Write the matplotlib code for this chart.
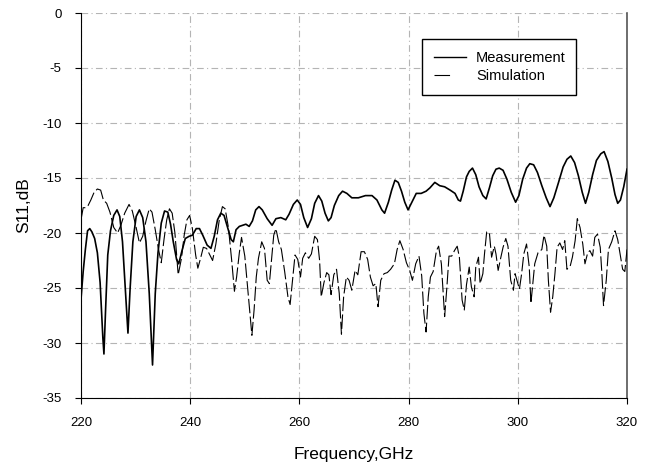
import matplotlib

matplotlib.use("Agg")
import matplotlib.pyplot as plt
from matplotlib.lines import Line2D

plt.rcParams["font.family"] = ["Liberation Sans", "DejaVu Sans"]
plt.rcParams["axes.unicode_minus"] = False

meas_freq = [
    220.0, 220.4, 220.8, 221.2, 221.6, 222.0, 222.5, 223.0, 223.5, 224.0, 224.2, 224.5,
    224.9, 225.4, 226.0, 226.6, 227.1, 227.6, 228.1, 228.6, 229.0, 229.5, 230.1, 230.7,
    231.3, 231.9, 232.5, 233.1, 233.6, 234.1, 234.7, 235.3, 235.9, 236.4, 236.9, 237.5,
    237.9, 238.5, 239.1, 239.8, 240.4, 241.1, 241.7, 242.3, 243.1, 243.8, 244.4, 245.0,
    245.6, 246.2, 246.9, 247.5, 247.9, 248.4, 249.0, 249.6, 250.2, 250.8, 251.4, 252.0,
    252.6, 253.2, 254.1, 255.0, 255.7, 256.6, 257.5, 258.1, 258.9, 259.6, 260.2, 260.8,
    261.5, 262.2, 262.8, 263.5, 264.1, 264.7, 265.3, 265.8, 266.4, 267.2, 267.9, 268.7,
    269.6, 270.8, 272.1, 273.3, 274.2, 275.1, 275.6, 276.3, 276.9, 277.5, 278.1, 278.7,
    279.3, 279.9, 280.5, 281.4, 282.3, 283.2, 283.9, 284.8, 285.7, 286.6, 287.6, 288.5,
    289.1, 289.5, 290.0, 290.6, 291.1, 291.7, 292.3, 292.9, 293.6, 294.2, 294.8, 295.4,
    296.0, 296.6, 297.3, 298.0, 298.8, 299.6, 300.2, 300.9, 301.6, 302.2, 302.9, 303.6,
    304.4, 305.2, 305.9, 306.6, 307.4, 308.3, 309.0, 309.7, 310.4, 311.1, 311.8, 312.4,
    313.0, 313.7, 314.4, 315.2, 315.8, 316.5, 317.2, 317.8, 318.3, 318.8, 319.4, 320.0,
]
meas_db = [
    -26.0, -23.5, -21.5, -19.8, -19.6, -19.9, -20.5, -21.8, -24.5, -29.5, -31.0, -27.0,
    -22.0, -19.8, -18.4, -17.9, -18.5, -20.8, -25.0, -29.1, -25.0, -20.8, -18.5, -17.9,
    -18.6, -20.8, -25.5, -32.0, -25.5, -21.8, -19.1, -18.0, -18.1, -19.2, -20.8, -22.4,
    -22.8, -21.6, -20.5, -20.3, -20.2, -19.6, -19.6, -20.2, -21.1, -21.4, -20.3, -18.8,
    -18.2, -18.4, -19.6, -20.6, -20.8, -19.7, -19.4, -19.3, -19.2, -19.4, -18.9, -17.9,
    -17.6, -17.9, -18.7, -19.3, -18.7, -18.6, -18.8, -18.3, -17.4, -17.0, -17.4, -18.6,
    -19.5, -18.7, -17.3, -16.6, -17.1, -18.2, -18.9, -18.6, -17.5, -16.6, -16.2, -16.4,
    -16.8, -16.8, -16.6, -16.6, -17.0, -17.9, -18.2, -17.2, -16.1, -15.2, -15.4, -16.2,
    -17.2, -17.9, -17.3, -16.4, -16.4, -16.2, -15.9, -15.4, -15.7, -15.8, -16.1, -16.4,
    -17.0, -17.1, -16.2, -14.9, -14.4, -14.1, -14.7, -15.8, -16.6, -16.9, -15.9, -14.8,
    -14.2, -14.1, -14.3, -15.1, -16.3, -17.2, -16.6, -15.1, -14.1, -13.7, -13.8, -14.5,
    -15.7, -16.8, -17.6, -16.8, -15.5, -14.0, -13.3, -13.0, -13.6, -14.8, -16.3, -17.3,
    -16.3, -14.7, -13.4, -12.8, -12.6, -13.5, -15.0, -16.5, -17.3, -17.0, -15.8, -14.2,
]

# simulated S11
sim_freq = [
    220.0, 220.4, 220.9, 221.3, 221.8, 222.4, 223.0, 223.6, 224.1, 224.7, 225.3, 226.0,
    226.7, 227.3, 228.0, 228.8, 229.4, 230.1, 230.7, 231.3, 231.9, 232.5, 233.0, 233.6,
    234.2, 234.7, 235.2, 235.7, 236.2, 236.7, 237.2, 237.8, 238.4, 238.9, 239.4, 239.9,
    240.4, 241.0, 241.4, 241.9, 242.4, 243.0, 243.6, 244.1, 244.7, 245.3, 245.9, 246.4,
    247.0, 247.6, 248.1, 248.5, 249.0, 249.4, 250.0, 250.6, 251.3, 251.7, 252.1, 252.5,
    253.1, 253.6, 254.1, 254.5, 254.9, 255.3, 255.7, 256.2, 256.7, 257.3, 257.9, 258.3,
    258.8, 259.2, 259.7, 260.2, 260.6, 261.1, 261.7, 262.2, 262.8, 263.3, 263.7, 264.0,
    264.5, 265.0, 265.4, 265.8, 266.3, 266.8, 267.3, 267.7, 268.1, 268.6, 269.1, 269.6,
    270.2, 270.7, 271.3, 271.9, 272.5, 273.0, 273.5, 274.0, 274.4, 274.9, 275.5, 276.1,
    276.7, 277.4, 277.9, 278.4, 279.0, 279.6, 280.2, 280.7, 281.3, 281.9, 282.4, 282.8,
    283.2, 283.6, 284.0, 284.5, 285.1, 285.5, 286.0, 286.6, 287.0, 287.4, 287.9, 288.4,
    288.9, 289.3, 289.8, 290.2, 290.6, 291.1, 291.5, 292.0, 292.3, 292.8, 293.1, 293.6,
    293.9, 294.3, 294.8, 295.2, 295.7, 296.0, 296.4, 296.9, 297.3, 297.8, 298.2, 298.7,
    299.2, 299.5, 299.9, 300.3, 300.7, 301.1, 301.6, 302.1, 302.4, 302.7, 303.1, 303.7,
    304.4, 304.8, 305.3, 305.6, 306.0, 306.4, 306.8, 307.2, 307.7, 308.2, 308.6, 309.0,
    309.6, 310.0, 310.5, 310.9, 311.4, 311.9, 312.3, 312.8, 313.2, 313.7, 314.1, 314.6,
    315.1, 315.4, 315.7, 316.2, 316.6, 317.2, 317.8, 318.3, 318.7, 319.2, 319.6, 320.0,
]
sim_db = [
    -18.8, -17.7, -17.7, -17.5, -17.0, -16.3, -16.0, -16.1, -17.0, -17.3, -18.1, -19.5,
    -20.0, -19.3, -18.2, -17.4, -18.0, -19.5, -20.9, -20.3, -18.9, -17.8, -18.1, -19.7,
    -21.5, -22.7, -20.6, -18.8, -17.8, -18.2, -20.0, -23.8, -22.3, -20.2, -18.8, -18.4,
    -19.6, -22.0, -23.2, -22.3, -21.3, -21.4, -22.0, -22.5, -21.0, -18.9, -17.6, -17.8,
    -19.5, -22.5, -25.3, -24.0, -21.8, -20.4, -22.1, -25.4, -29.3, -27.0, -24.0, -22.3,
    -20.8, -21.4, -24.3, -24.6, -22.4, -20.2, -19.6, -20.8, -21.5, -23.5, -25.8, -26.5,
    -24.0, -22.0, -22.4, -24.0, -22.3, -21.8, -22.3, -21.9, -20.3, -20.6, -22.5, -25.8,
    -24.5, -23.6, -23.8, -25.6, -23.8, -23.3, -25.5, -29.2, -25.8, -24.0, -24.3, -25.2,
    -23.4, -23.8, -21.7, -21.7, -22.4, -24.0, -24.8, -24.6, -26.7, -24.3, -23.7, -23.6,
    -23.3, -22.8, -21.5, -20.7, -21.5, -22.7, -23.4, -24.3, -22.8, -22.1, -23.9, -27.3,
    -29.0, -25.8, -24.0, -23.5, -21.6, -21.2, -22.8, -27.6, -25.0, -22.1, -22.1, -21.6,
    -21.2, -22.2, -26.1, -27.0, -24.7, -23.1, -24.9, -25.8, -23.1, -22.2, -24.6, -23.7,
    -21.9, -19.9, -20.0, -22.2, -21.2, -21.9, -23.4, -22.2, -21.3, -20.5, -21.2, -24.3,
    -25.2, -23.7, -24.4, -25.1, -23.7, -21.9, -21.0, -23.1, -26.4, -24.9, -22.8, -21.8,
    -21.5, -20.2, -21.2, -24.3, -27.2, -25.8, -23.7, -21.3, -20.9, -21.5, -20.7, -23.3,
    -23.0, -22.2, -20.7, -18.7, -19.5, -21.0, -22.8, -21.8, -21.6, -22.1, -20.4, -20.1,
    -21.3, -23.7, -26.6, -24.3, -21.5, -20.8, -19.8, -20.6, -21.8, -23.3, -23.5, -21.5,
]

x_ticks = [220, 240, 260, 280, 300, 320]
y_ticks = [0, -5, -10, -15, -20, -25, -30, -35]


def draw_s11(figsize: tuple[float, float]) -> None:
    f = plt.figure(figsize=figsize, dpi=100)
    ax = f.add_axes([81 / 652, 1 - 398 / 466, 546 / 652, 385 / 466])

    ax.plot(meas_freq, meas_db, color="black", lw=1.2, zorder=3)
    ax.plot(sim_freq, sim_db, color="black", lw=0.8, dashes=(13, 3), zorder=3)

    ax.set_xlim(220, 320)
    ax.set_ylim(-35, 0)
    ax.set_xticks(x_ticks)
    ax.set_yticks(y_ticks)
    ax.tick_params(labelsize=9.5, length=4, direction="out")
    ax.tick_params(axis="x", pad=10)
    ax.tick_params(axis="y", pad=10)
    ax.grid(visible=True, color="#b4b4b4", lw=0.8, dashes=(6, 3, 1, 3))
    ax.set_axisbelow(True)

    ax.spines["top"].set_visible(False)
    ax.spines["right"].set_color("#555555")
    ax.spines["right"].set_linewidth(1.2)

    ax.set_xlabel("Frequency,GHz", fontsize=12.5, labelpad=13)
    ax.set_ylabel("S11,dB", fontsize=12.5, labelpad=8)

    handles = [
        Line2D([], [], color="black", lw=1.0),
        Line2D([], [], color="black", lw=0.8, dashes=(14, 30)),
    ]
    leg = ax.legend(
        handles,
        ["Measurement", "Simulation"],
        loc="upper left",
        bbox_to_anchor=(0.6245, 0.9325, 0.282, 0.0),
        mode="expand",
        borderaxespad=0,
        fontsize=10.5,
        handlelength=2.2,
        handletextpad=0.7,
        borderpad=0.8,
        labelspacing=0.3,
        fancybox=False,
        framealpha=1,
        edgecolor="black",
    )
    leg.get_frame().set_linewidth(1.0)

    f.savefig("out.png", dpi=100)
    plt.close(f)


if __name__ == "__main__":
    draw_s11((6.52, 4.66))
